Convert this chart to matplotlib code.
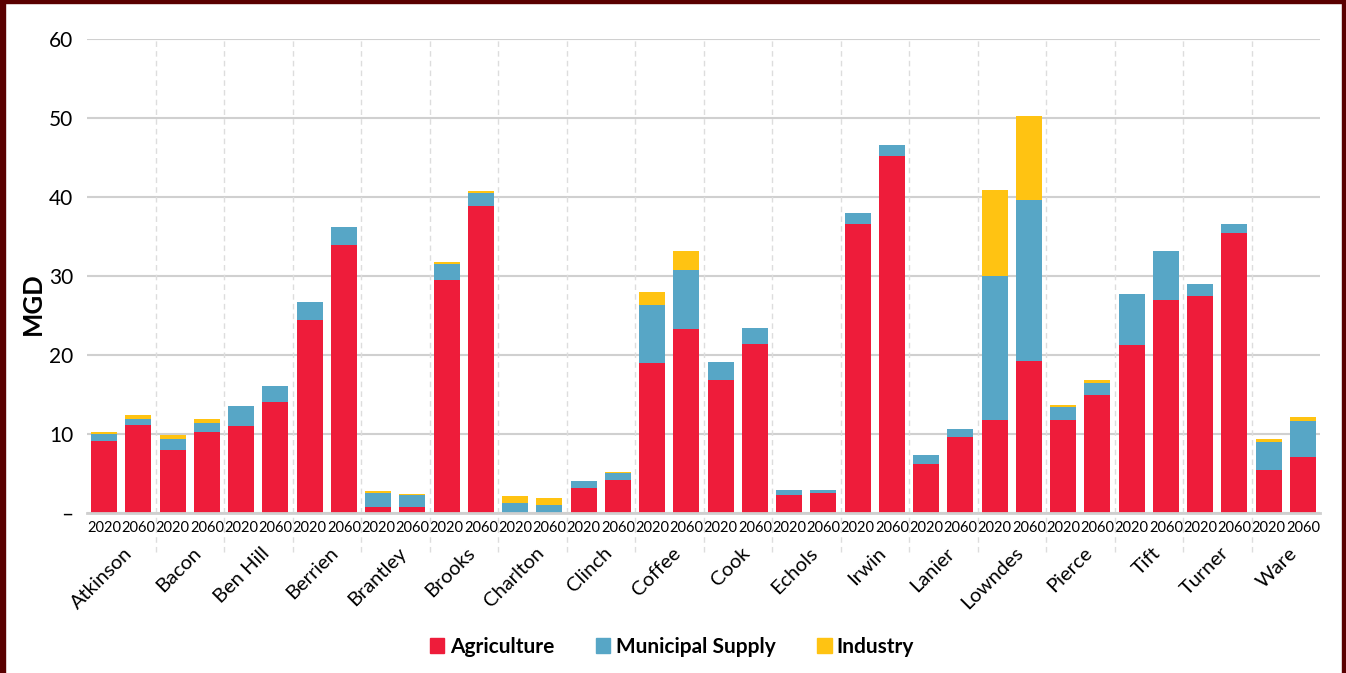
import matplotlib
matplotlib.use("Agg")
import matplotlib.pyplot as plt
import numpy as np
from matplotlib.patches import Patch, Rectangle
from matplotlib.lines import Line2D
from matplotlib.transforms import blended_transform_factory

counties = ["Atkinson", "Bacon", "Ben Hill", "Berrien", "Brantley", "Brooks", "Charlton",
            "Clinch", "Coffee", "Cook", "Echols", "Irwin", "Lanier", "Lowndes", "Pierce",
            "Tift", "Turner", "Ware"]
years = ["2020", "2060"]

# values in order: county1-2020, county1-2060, county2-2020, ...
agriculture = [9.1, 11.1, 8.0, 10.3, 11.0, 14.1, 24.4, 33.9, 0.7, 0.8, 29.5, 38.9,
               0.0, 0.0, 3.2, 4.2, 19.0, 23.3, 16.8, 21.4, 2.3, 2.5, 36.6, 45.2,
               6.2, 9.6, 11.8, 19.2, 11.8, 14.9, 21.3, 26.9, 27.5, 35.5, 5.4, 7.1]
municipal = [0.9, 0.8, 1.4, 1.1, 2.5, 2.0, 2.3, 2.3, 1.8, 1.5, 2.0, 1.6,
             1.3, 1.05, 0.85, 0.85, 7.3, 7.5, 2.3, 2.0, 0.6, 0.4, 1.4, 1.4,
             1.1, 1.0, 18.2, 20.4, 1.65, 1.6, 6.4, 6.3, 1.5, 1.1, 3.6, 4.5]
industry = [0.25, 0.5, 0.5, 0.5, 0.0, 0.0, 0.0, 0.0, 0.3, 0.15, 0.3, 0.3,
            0.9, 0.9, 0.05, 0.15, 1.7, 2.4, 0.0, 0.0, 0.0, 0.0, 0.0, 0.0,
            0.0, 0.0, 10.9, 10.6, 0.25, 0.3, 0.0, 0.0, 0.0, 0.0, 0.4, 0.5]
yticks = [0, 10, 20, 30, 40, 50, 60]
ytick_labels = ["–", "10", "20", "30", "40", "50", "60"]

RED = "#EE1C3A"
BLUE = "#57A6C6"
YELLOW = "#FFC312"
BORDER = "#5A0000"

plt.rcParams["font.family"] = ["Lato", "DejaVu Sans"]

fig = plt.figure(figsize=(13.46, 6.73), dpi=100)
ax = fig.add_axes([87 / 1346, 1 - 513 / 673, (1320 - 87) / 1346, (513 - 39) / 673])

n = len(agriculture)
x = np.arange(n)
agr = np.array(agriculture)
mun = np.array(municipal)
ind = np.array(industry)
w = 0.76
ax.bar(x, agr, w, color=RED, zorder=3)
ax.bar(x, mun, w, bottom=agr, color=BLUE, zorder=3)
ax.bar(x, ind, w, bottom=agr + mun, color=YELLOW, zorder=3)

ax.set_xlim(-0.5, n - 0.5)
ax.set_ylim(0, 60)
ax.set_yticks(yticks)
ax.set_yticklabels(ytick_labels, fontsize=15)
ax.tick_params(axis="y", length=0, pad=10)
ax.yaxis.grid(True, color="#D0D0D0", linewidth=1.5, zorder=0)
ax.set_axisbelow(True)
for s in ["top", "right", "left"]:
    ax.spines[s].set_visible(False)
ax.spines["bottom"].set_color("#CFCFCF")
ax.spines["bottom"].set_linewidth(2)
ax.spines["bottom"].set_zorder(4)

ax.set_xticks(x)
ax.set_xticklabels([years[i % 2] for i in range(n)], fontsize=10.5)
ax.tick_params(axis="x", length=0, pad=6)

trans = blended_transform_factory(ax.transData, ax.transAxes)
# dashed group separators
for g in range(1, len(counties)):
    xb = 2 * g - 0.5
    ax.add_line(Line2D([xb, xb], [-0.083, 1.0], transform=trans, color="#DDDDDD",
                       linestyle=(0, (4, 3)), linewidth=1, clip_on=False, zorder=1))
# county labels
for g, name in enumerate(counties):
    ax.text(2 * g + 0.5 + 0.08, -0.066, name, transform=trans, rotation=45,
            rotation_mode="anchor", ha="right", va="top", fontsize=14.5)

fig.text(33 / 1346, 1 - 304 / 673, "MGD", rotation=90, ha="center", va="center",
         fontsize=18.5, fontweight="bold")

handles = [Patch(color=RED), Patch(color=BLUE), Patch(color=YELLOW)]
leg = fig.legend(handles, ["Agriculture", "Municipal Supply", "Industry"], ncol=3,
                 loc="center", bbox_to_anchor=(672 / 1346, 1 - 647 / 673), frameon=False,
                 prop={"size": 15, "weight": "bold"}, handlelength=0.7, handleheight=0.7,
                 handletextpad=0.25, columnspacing=2.0)

# dark red frame
fig.patches.append(Rectangle((0, 0), 5 / 1346, 1, transform=fig.transFigure, color=BORDER, zorder=10))
fig.patches.append(Rectangle((1 - 4 / 1346, 0), 4 / 1346, 1, transform=fig.transFigure, color=BORDER, zorder=10))
fig.patches.append(Rectangle((0, 1 - 3 / 673), 1, 3 / 673, transform=fig.transFigure, color=BORDER, zorder=10))

fig.savefig("out.png", dpi=100)
